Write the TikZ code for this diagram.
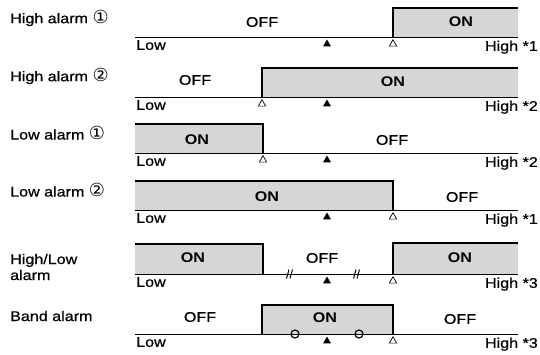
\documentclass[tikz,border=0pt]{standalone}
\usepackage{fontspec}
\setmainfont{Liberation Sans}[FakeStretch=1.15,FakeBold=0.6,BoldFeatures={FakeBold=0}]
\newfontfamily\symfont{DejaVu Sans}
\usetikzlibrary{positioning,shapes.geometric}

\newcommand\cnum[1]{{\symfont\fontsize{18}{18}\selectfont #1}}

\begin{document}
\begin{tikzpicture}[x=1pt,y=-1pt,
    base/.style={line width=1pt},
    edge/.style={line width=1.8pt},
    band/.style={fill=black!16},
    txt/.style={font=\fontsize{14}{16}\selectfont,inner sep=0pt},
    onlbl/.style={txt,font=\fontsize{14}{16}\selectfont\bfseries},
    rowlbl/.style={txt,anchor=west,align=left},
    sp/.style={regular polygon,regular polygon sides=3,fill=black,inner sep=0pt,minimum size=9pt},
    hy/.style={regular polygon,regular polygon sides=3,draw,line width=0.7pt,fill=white,inner sep=0pt,minimum size=8.5pt}]

  \useasboundingbox (0,0) rectangle (540,354);

  % bands first, so the baselines stay on top
  \coordinate (s1) at (393,37);
  \coordinate (s2) at (262,97);
  \coordinate (s3) at (263,153);
  \coordinate (s4) at (393,210);
  \coordinate (s5) at (263,274);
  \coordinate (t5) at (393,274);
  \coordinate (s6) at (262,334);
  \coordinate (t6) at (393,334);

  \foreach \r/\y/\k in {1/37/1,2/97/2,3/153/2,4/210/1,5/274/3,6/334/3} {
    \coordinate (a\r) at (135,\y);
    \coordinate (b\r) at (518,\y);
  }

  \fill[band] (s1) rectangle ([yshift=29pt]b1);
  \fill[band] (s2) rectangle ([yshift=29pt]b2);
  \fill[band] (a3) rectangle ([yshift=29pt]s3);
  \fill[band] (a4) rectangle ([yshift=29pt]s4);
  \fill[band] (a5) rectangle ([yshift=30pt]s5);
  \fill[band] (t5) rectangle ([yshift=31pt]b5);
  \fill[band] (s6) rectangle ([yshift=29pt]t6);

  \draw[edge] (s1) |- ([yshift=29pt]b1);
  \draw[edge] (s2) |- ([yshift=29pt]b2);
  \draw[edge] ([yshift=29pt]a3) -| (s3);
  \draw[edge] ([yshift=29pt]a4) -| (s4);
  \draw[edge] ([yshift=30pt]a5) -| (s5);
  \draw[edge] (t5) |- ([yshift=31pt]b5);
  \draw[edge] (s6) |- ([yshift=29pt]t6) -- (t6);

  % baselines, scale ends and set points
  \foreach \r/\y/\k in {1/37/1,2/97/2,3/153/2,4/210/1,5/274/3,6/334/3} {
    \draw[base] (a\r) -- (b\r);
    \node[sp] (sp\r) at (327,\y+7) {};
    \node[txt,anchor=north west] (low\r) at ([xshift=1pt,yshift=-3pt]a\r) {Low};
    \node[txt,anchor=north east] (high\r) at (538,\y+3.5) {High *\k};
  }

  % hysteresis marks
  \node[hy] (hy1) at ([yshift=-7pt]s1) {};
  \node[hy] (hy2) at ([yshift=-7pt]s2) {};
  \node[hy] (hy3) at ([yshift=-7pt]s3) {};
  \node[hy] (hy4) at ([yshift=-7pt]s4) {};
  \node[hy] (hy5) at ([yshift=-7pt]t5) {};
  \node[hy] (hy6) at ([yshift=-7pt]t6) {};

  % row labels
  \node[rowlbl] (r1) at (10,18) {High alarm \cnum{①}};
  \node[rowlbl] (r2) at (10,76) {High alarm \cnum{②}};
  \node[rowlbl] (r3) at (10,133) {Low alarm \cnum{①}};
  \node[rowlbl] (r4) at (10,190) {Low alarm \cnum{②}};
  \node[rowlbl] (r5) at (10,267) {High/Low\\alarm};
  \node[rowlbl] (r6) at (10,316) {Band alarm};

  % states
  \node[txt] (off1) at (262,22) {OFF};
  \node[onlbl] (on1) at (461,22) {ON};
  \node[txt] (off2) at (195,80) {OFF};
  \node[onlbl] (on2) at (393,82) {ON};
  \node[onlbl] (on3) at (197,140) {ON};
  \node[txt] (off3) at (392,140) {OFF};
  \node[onlbl] (on4) at (267,197) {ON};
  \node[txt] (off4) at (462,197) {OFF};
  \node[onlbl] (on5a) at (193,258) {ON};
  \node[txt] (off5) at (322,258) {OFF};
  \node[onlbl] (on5b) at (460,258) {ON};
  \node[txt] (off6a) at (200,317) {OFF};
  \node[onlbl] (on6) at (325,318) {ON};
  \node[txt] (off6b) at (460,319) {OFF};

  % breaks in the high/low row
  \coordinate (k1) at (290,274);
  \coordinate (k2) at (357,274);
  \foreach \k in {k1,k2} {
    \draw[base] ([xshift=-3.5pt,yshift=-4.5pt]\k) -- ([xshift=-1pt,yshift=4.5pt]\k);
    \draw[base] ([xshift=0pt,yshift=-4.5pt]\k) -- ([xshift=2.5pt,yshift=4.5pt]\k);
  }

  % band limits
  \node[draw,circle,line width=1.2pt,inner sep=0pt,minimum size=8pt] (c1) at (295,334) {};
  \node[draw,circle,line width=1.2pt,inner sep=0pt,minimum size=8pt] (c2) at (359,334) {};
\end{tikzpicture}
\end{document}
